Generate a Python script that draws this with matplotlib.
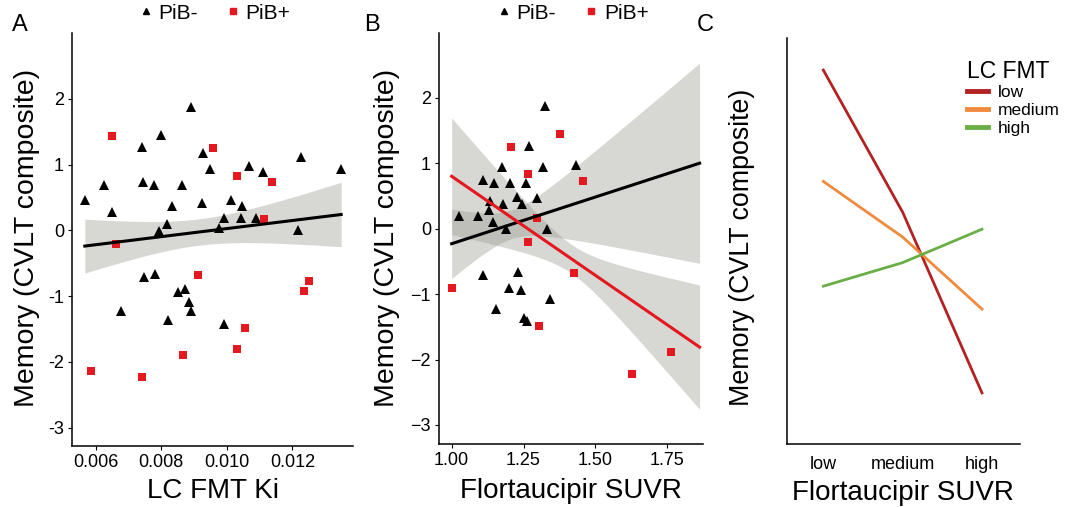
import numpy as np
import matplotlib.pyplot as plt
from matplotlib.lines import Line2D

plt.rcParams['font.family'] = ['Liberation Sans', 'DejaVu Sans']

# panel A: LC FMT Ki vs memory
a_neg_x = [0.00567, 0.00626, 0.00649, 0.00741, 0.00745, 0.00779, 0.00800, 0.00792, 0.00817,
           0.00832, 0.00864, 0.00890, 0.00924, 0.00928, 0.00949, 0.00977, 0.00993, 0.01014,
           0.01044, 0.01047, 0.01067, 0.01089, 0.01112, 0.01218, 0.01226, 0.01349,
           0.00747, 0.00780, 0.00676, 0.00852, 0.00872, 0.00885, 0.00892, 0.00820, 0.00993]
a_neg_y = [0.46, 0.69, 0.28, 1.26, 0.74, 0.69, 1.45, -0.01, 0.09,
           0.37, 0.69, 1.88, 0.42, 1.17, 0.93, 0.04, 0.18, 0.46,
           0.18, 0.37, 0.98, 0.18, 0.88, 0.00, 1.12, 0.93,
           -0.71, -0.66, -1.23, -0.94, -0.90, -1.09, -1.23, -1.37, -1.42]
a_pos_x = [0.00650, 0.00958, 0.01031, 0.01139, 0.01113, 0.00662, 0.00912, 0.01235,
           0.01251, 0.01056, 0.01030, 0.00866, 0.00587, 0.00742]
a_pos_y = [1.43, 1.25, 0.83, 0.73, 0.17, -0.21, -0.68, -0.92,
           -0.77, -1.48, -1.81, -1.90, -2.14, -2.23]

# fitted line (ends) and CI half-widths (left end, narrowest, right end)
fit_a_x = [0.00567, 0.01349]
fit_a_y = [-0.24, 0.24]
ci_a = [0.41, 0.20, 0.49]

# panel B: flortaucipir SUVR vs memory
b_neg_x = [1.324, 1.268, 1.175, 1.317, 1.434, 1.108, 1.147, 1.202, 1.260, 1.133,
           1.178, 1.226, 1.246, 1.297, 1.131, 1.026, 1.091, 1.145, 1.189, 1.331,
           1.108, 1.230, 1.198, 1.240, 1.341, 1.155, 1.250, 1.261]
b_neg_y = [1.88, 1.26, 0.94, 0.94, 0.98, 0.75, 0.70, 0.70, 0.70, 0.42,
           0.38, 0.48, 0.38, 0.47, 0.28, 0.19, 0.19, 0.10, 0.00, 0.00,
           -0.71, -0.66, -0.90, -0.94, -1.08, -1.23, -1.37, -1.41]
b_pos_x = [1.208, 1.376, 1.265, 1.455, 1.297, 1.264, 1.000, 1.425, 1.304, 1.761, 1.627]
b_pos_y = [1.25, 1.44, 0.83, 0.73, 0.17, -0.20, -0.91, -0.68, -1.48, -1.89, -2.22]

fit_b_x = [1.0, 1.862]
fit_b_neg_y = [-0.23, 1.00]
ci_b_neg = [0.53, 0.22, 1.53]
fit_b_pos_y = [0.80, -1.81]
ci_b_pos = [0.89, 0.22, 0.95]

# panel C: model predictions
c_levels = ['low', 'medium', 'high']
c_low = [2.46, 0.29, -2.47]
c_medium = [0.76, -0.09, -1.19]
c_high = [-0.84, -0.48, 0.03]

RED = '#e3191f'
BAND = '#9c9c92'


def ci_band(xs, fit_x, fit_y, half):
    # hyperbolic confidence band of a straight-line fit
    hl, h0, hr = half
    span = fit_x[1] - fit_x[0]
    r = np.sqrt((hl ** 2 - h0 ** 2) / (hr ** 2 - h0 ** 2))
    dl = span * r / (1 + r)
    xc = fit_x[0] + dl
    k2 = (hl ** 2 - h0 ** 2) / dl ** 2
    fit = np.interp(xs, fit_x, fit_y)
    h = np.sqrt(h0 ** 2 + k2 * (xs - xc) ** 2)
    return fit, fit - h, fit + h


def style(ax):
    ax.spines['top'].set_visible(False)
    ax.spines['right'].set_visible(False)
    ax.spines['left'].set_linewidth(1.1)
    ax.spines['bottom'].set_linewidth(1.1)
    ax.tick_params(direction='out', length=3, width=0.8, labelsize=13, pad=3)


fig = plt.figure(figsize=(10.67, 5.07), dpi=100)
axA = fig.add_axes([0.0678, 0.1209, 0.2630, 0.8141])
axB = fig.add_axes([0.4117, 0.1243, 0.2472, 0.8107])
axC = fig.add_axes([0.7373, 0.1243, 0.2187, 0.8007])

# A
axA.plot(a_neg_x, a_neg_y, '^', color='black', ms=7, mew=0)
axA.plot(a_pos_x, a_pos_y, 's', color=RED, ms=5.5, mew=0)
xs = np.linspace(fit_a_x[0], fit_a_x[1], 200)
fit, lo, hi = ci_band(xs, fit_a_x, fit_a_y, ci_a)
axA.fill_between(xs, lo, hi, color=BAND, alpha=0.4, lw=0)
axA.plot(xs, fit, color='black', lw=2.2)
axA.set_xlim(0.00529, 0.01385)
axA.set_ylim(-3.275, 3.0)
axA.set_xticks([0.006, 0.008, 0.010, 0.012])
axA.set_xticklabels(['0.006', '0.008', '0.010', '0.012'])
axA.set_yticks([-3, -2, -1, 0, 1, 2])
axA.set_yticklabels(['-3', '-2', '-1', '0', '1', '2'])
style(axA)

# B
axB.plot(b_neg_x, b_neg_y, '^', color='black', ms=7, mew=0)
axB.plot(b_pos_x, b_pos_y, 's', color=RED, ms=5.5, mew=0)
xs = np.linspace(fit_b_x[0], fit_b_x[1], 200)
fit, lo, hi = ci_band(xs, fit_b_x, fit_b_neg_y, ci_b_neg)
axB.fill_between(xs, lo, hi, color=BAND, alpha=0.4, lw=0)
axB.plot(xs, fit, color='black', lw=2.2)
fit, lo, hi = ci_band(xs, fit_b_x, fit_b_pos_y, ci_b_pos)
axB.fill_between(xs, lo, hi, color=BAND, alpha=0.4, lw=0)
axB.plot(xs, fit, color=RED, lw=2.2)
axB.set_xlim(0.957, 1.874)
axB.set_ylim(-3.29, 2.99)
axB.set_xticks([1.0, 1.25, 1.5, 1.75])
axB.set_xticklabels(['1.00', '1.25', '1.50', '1.75'])
axB.set_yticks([-3, -2, -1, 0, 1, 2])
axB.set_yticklabels(['\u22123', '\u22122', '\u22121', '0', '1', '2'])
style(axB)

for ax in (axA, axB):
    h = [Line2D([], [], marker='^', ls='', color='black', ms=4.5),
         Line2D([], [], marker='s', ls='', color=RED, ms=4.5)]
    ax.legend(h, ['PiB-', 'PiB+'], loc='lower center', bbox_to_anchor=(0.5, 1.0),
              ncol=2, frameon=False, fontsize=15, handletextpad=0.1,
              columnspacing=1.2, borderaxespad=0.1, handlelength=1.0)

# C
xc = np.arange(len(c_levels))
axC.plot(xc, c_low, color='#b22222', lw=2.0, label='low')
axC.plot(xc, c_medium, color='#f08a3c', lw=2.0, label='medium')
axC.plot(xc, c_high, color='#6aaf46', lw=2.0, label='high')
axC.set_xlim(-0.462, 2.48)
axC.set_ylim(-3.25, 2.95)
axC.set_xticks(xc)
axC.set_xticklabels(c_levels)
axC.set_yticks([])
style(axC)
axC.tick_params(axis='x', length=0, pad=9)
leg = axC.legend(title='LC FMT', loc='upper left', bbox_to_anchor=(0.705, 0.985),
                 frameon=False, fontsize=12.5, title_fontsize=16.5, handlelength=1.2,
                 handletextpad=0.6, labelspacing=0.15, alignment='left')
for ln in leg.get_lines():
    ln.set_linewidth(3.5)

# axis labels
ylab = 'Memory (CVLT composite)'
fig.text(27 / 1067, 1 - 238 / 507, ylab, rotation=90, ha='center', va='center', fontsize=20.5)
fig.text(387 / 1067, 1 - 238 / 507, ylab, rotation=90, ha='center', va='center', fontsize=20.5)
fig.text(742 / 1067, 1 - 247 / 507, ylab, rotation=90, ha='center', va='center', fontsize=19.3)
fig.text(212.7 / 1067, 9 / 507, 'LC FMT Ki', ha='center', va='baseline', fontsize=20)
fig.text(571 / 1067, 9 / 507, 'Flortaucipir SUVR', ha='center', va='baseline', fontsize=20)
fig.text(903 / 1067, 7 / 507, 'Flortaucipir SUVR', ha='center', va='baseline', fontsize=20)

for lab, x in [('A', 12), ('B', 364), ('C', 697)]:
    fig.text(x / 1067, 1 - 31 / 507, lab, ha='left', va='baseline', fontsize=17)

fig.savefig('out.png', dpi=100)
